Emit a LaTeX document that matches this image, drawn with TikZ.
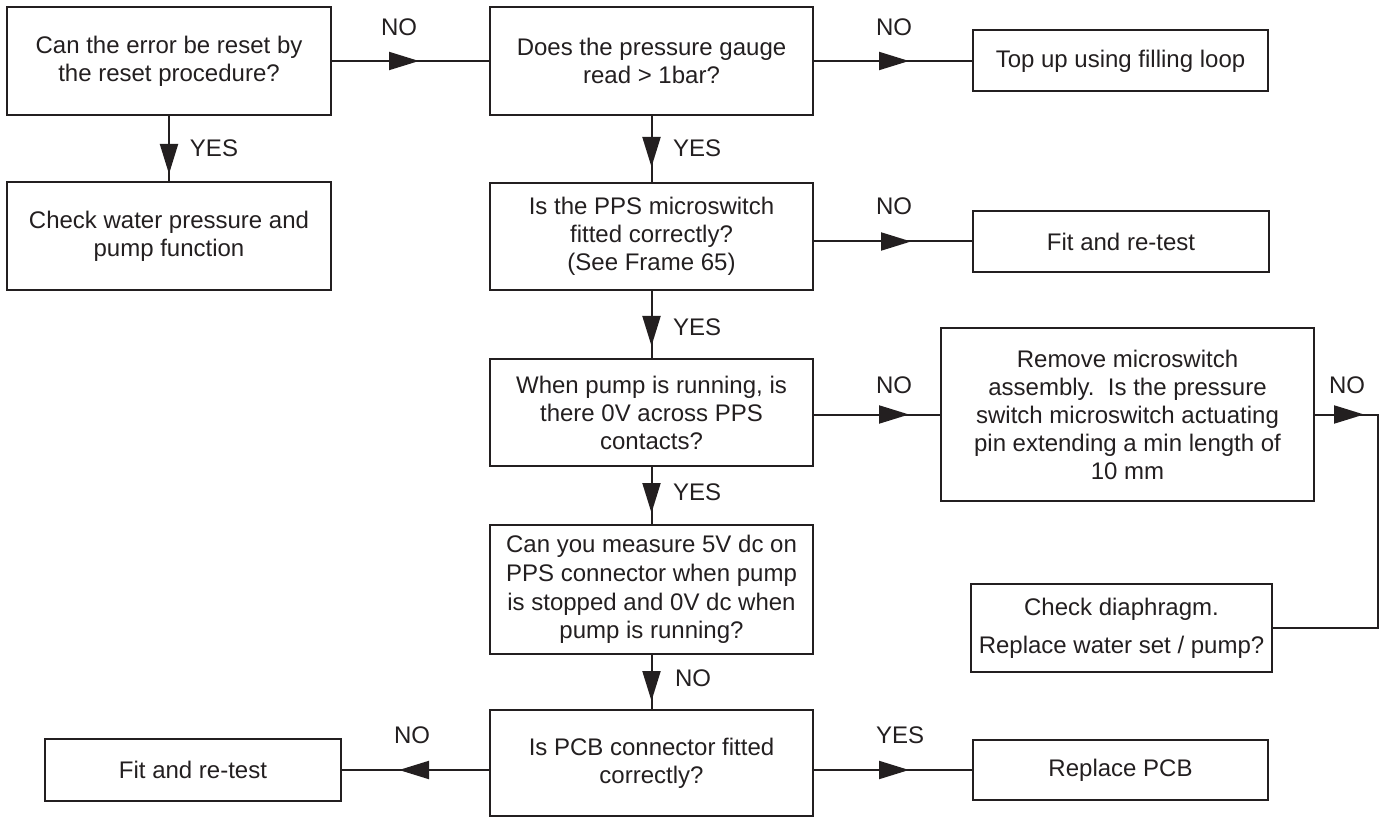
\documentclass[tikz,border=0pt]{standalone}
\usepackage{fontspec}
\setmainfont{Liberation Sans}
\usepackage{xcolor}
\usetikzlibrary{arrows.meta,decorations.markings}
\definecolor{ink}{HTML}{231F20}

\begin{document}
\begin{tikzpicture}[
    x=0.5pt, y=-0.5pt,
    every node/.style={font=\fontsize{12}{14}\selectfont, text=ink},
    box/.style={draw=ink, line width=1pt, align=center, inner sep=0pt},
    lbl/.style={inner sep=0pt},
    arr/.style={draw=ink, line width=1pt, postaction={decorate},
                decoration={markings,
                  mark=at position #1 with {\arrow{Triangle[length=15pt,width=9pt]}}}}
  ]
  \useasboundingbox (0,0) rectangle (1384,817);

  % boxes
  \node[box, minimum width=162pt, minimum height=54pt]     (reset)   at (169,61)     {Can the error be reset by\\the reset procedure?};
  \node[box, minimum width=161.5pt, minimum height=54pt]   (gauge)   at (651.5,61)   {Does the pressure gauge\\read > 1bar?};
  \node[box, minimum width=147.5pt, minimum height=30.5pt] (topup)   at (1120.5,61)  {Top up using filling loop};
  \node[box, minimum width=162pt, minimum height=54pt]     (check)   at (169,236)    {Check water pressure and\\pump function};
  \node[box, minimum width=161.5pt, minimum height=53.5pt] (ppsfit)  at (651.5,236.5) {Is the PPS microswitch\\fitted correctly?\\(See Frame 65)};
  \node[box, minimum width=148pt, minimum height=30.5pt]   (fitA)    at (1121,241.5) {Fit and re-test};
  \node[box, minimum width=161.5pt, minimum height=53.5pt] (zerov)   at (651.5,412.5) {When pump is running, is\\there 0V across PPS\\contacts?};
  \node[box, minimum width=186.5pt, minimum height=86.5pt] (remove)  at (1127.5,414.5)
    {Remove microswitch\\assembly.\ \ Is the pressure\\switch microswitch actuating\\pin extending a min length of\\10 mm};
  \node[box, minimum width=150.5pt, minimum height=44pt]   (diaph)   at (1121.5,628) {Check diaphragm.\\[5pt]Replace water set / pump?};
  \node[box, minimum width=161.5pt, minimum height=64.5pt,
        font=\fontsize{12}{14.3}\selectfont]               (measure) at (651.5,589.5)
    {Can you measure 5V dc on\\PPS connector when pump\\is stopped and 0V dc when\\pump is running?};
  \node[box, minimum width=161.5pt, minimum height=53pt]   (pcbfit)  at (651.5,763)  {Is PCB connector fitted\\correctly?};
  \node[box, minimum width=147.5pt, minimum height=30pt]   (pcb)     at (1120.5,770) {Replace PCB};
  \node[box, minimum width=148pt, minimum height=31pt]     (fitB)    at (193,770)    {Fit and re-test};

  % connectors
  \coordinate (turn) at (1378,418);
  \draw[arr=43.5pt] (reset) -- (gauge);
  \draw[arr=47.5pt] (gauge) -- (topup);
  \draw[arr=29pt]   (reset) -- (check);
  \draw[arr=25.5pt] (gauge) -- (ppsfit);
  \draw[arr=48.5pt] (ppsfit.east |- fitA.west) -- (fitA.west);
  \draw[arr=27.5pt] (ppsfit) -- (zerov);
  \draw[arr=47.5pt] (zerov.east |- remove.west) -- (remove.west);
  \draw[arr=24.5pt] (remove.east) -- (remove.east -| turn) -- (turn |- diaph.east) -- (diaph.east);
  \draw[arr=23pt]   (zerov) -- (measure);
  \draw[arr=23pt]   (measure) -- (pcbfit);
  \draw[arr=47.5pt] (pcbfit.east |- pcb.west) -- (pcb.west);
  \draw[arr=45pt]   (pcbfit.west |- fitB.east) -- (fitB.east);

  % labels
  \node[lbl] (noreset)  at (399,27)   {NO};
  \node[lbl] (nogauge)  at (894,27)   {NO};
  \node[lbl] (yesreset) at (214,148)  {YES};
  \node[lbl] (yesgauge) at (697,148)  {YES};
  \node[lbl] (nopps)    at (894,206)  {NO};
  \node[lbl] (yespps)   at (697,327)  {YES};
  \node[lbl] (nozerov)  at (894,385)  {NO};
  \node[lbl] (noremove) at (1347,385) {NO};
  \node[lbl] (yeszerov) at (697,492)  {YES};
  \node[lbl] (nomeas)   at (693,678)  {NO};
  \node[lbl] (yespcb)   at (900,735)  {YES};
  \node[lbl] (nopcb)    at (412,735)  {NO};
\end{tikzpicture}
\end{document}
